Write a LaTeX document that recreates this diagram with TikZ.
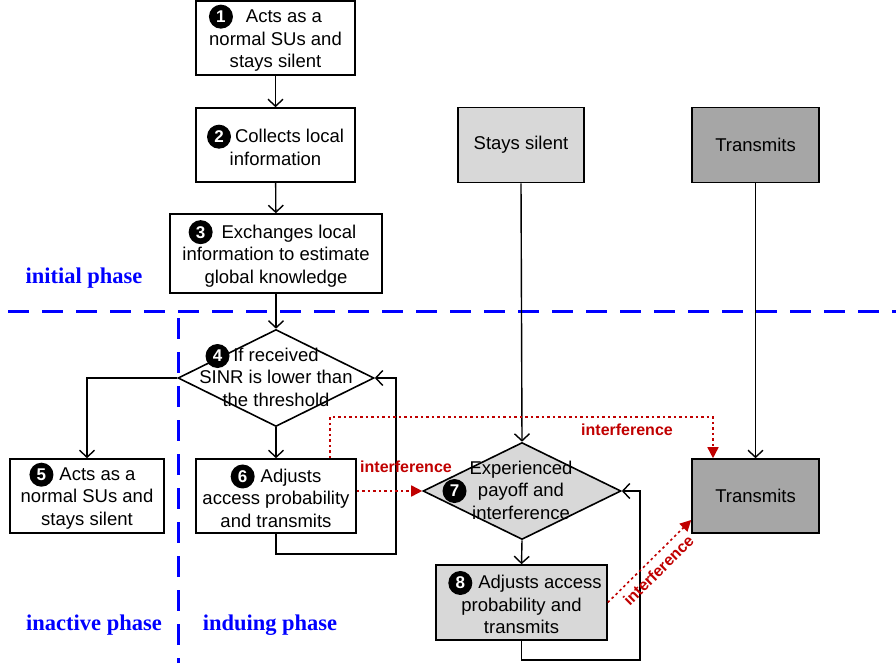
\documentclass[tikz,border=0pt]{standalone}
\usepackage{fontspec}
\setmainfont{Liberation Sans}
\newfontfamily\phasefont{Liberation Serif}
\usetikzlibrary{arrows.meta,shapes.geometric}
\definecolor{lgray}{RGB}{216,216,216}
\definecolor{dgray}{RGB}{166,166,166}
\definecolor{ired}{RGB}{192,0,0}
\definecolor{pblue}{RGB}{0,0,255}
\newcommand\cnum[1]{\tikz[baseline=(cn#1.base)]\node[circle,fill=black,text=white,inner sep=0pt,minimum size=24pt,font=\fontsize{17}{17}\selectfont\bfseries](cn#1){#1};}
\begin{document}
\begin{tikzpicture}[x=1pt,y=-1pt,
  box/.style={draw,line width=1.6pt,align=center,inner sep=0pt,font=\fontsize{18.5}{22.5}\selectfont},
  dia/.style={diamond,draw,line width=1.6pt,inner sep=0pt,minimum width=196pt,minimum height=97pt},
  txt/.style={align=center,inner sep=0pt,font=\fontsize{18.5}{22.5}\selectfont},
  numc/.style={circle,fill=black,text=white,inner sep=0pt,minimum size=24pt,font=\fontsize{17}{17}\selectfont\bfseries},
  conn/.style={line width=1.4pt,-{Straight Barb[length=7pt,width=15pt]}},
  intf/.style={ired,line width=1.6pt,dash pattern=on 2.5pt off 3pt,-{Triangle[length=11pt,width=11pt]}},
  ilab/.style={text=ired,font=\fontsize{16}{16}\selectfont\bfseries,inner sep=1pt},
  phase/.style={text=pblue,font=\phasefont\fontsize{22.5}{22.5}\selectfont\bfseries,inner sep=0pt},
  phline/.style={pblue,line width=3pt,dash pattern=on 21pt off 13pt}]
\useasboundingbox (0,0) rectangle (896,663);

% phase separators
\coordinate (hl) at (8,311);
\coordinate (hr) at (896,311);
\coordinate (vt) at (178.5,318);
\coordinate (vb) at (178.5,663);
\draw[phline] (hl) -- (hr);
\draw[phline] (vt) -- (vb);

\node[phase] (p1) at (84,278) {initial phase};
\node[phase] (p2) at (94,625) {inactive phase};
\node[phase] (p3) at (270,625) {induing phase};

% boxes
\node[box,minimum width=159pt,minimum height=74pt] (b1) at (275.5,38) {\cnum{1}\hspace{13pt}Acts as a\hspace*{20pt}\\normal SUs and\\stays silent};
\node[box,minimum width=159pt,minimum height=74pt] (b2) at (275.5,145) {\cnum{2}\hspace{4pt}Collects local\\information};
\node[box,minimum width=212pt,minimum height=79pt] (b3) at (276,253.5) {\cnum{3}\hspace{9pt}Exchanges local\hspace*{7pt}\\information to estimate\\global knowledge};
\node[dia] (d4) at (276,378) {};
\node[txt] (t4) at (276,377) {If received\\SINR is lower than\\the threshold};
\node[numc] (n4) at (217.5,356) {4};
\node[box,minimum width=154pt,minimum height=74pt] (b5) at (87,496) {\cnum{5}\hspace{6pt}Acts as a\hspace*{9pt}\\normal SUs and\\stays silent};
\node[box,minimum width=160pt,minimum height=74pt] (b6) at (276,496) {\cnum{6}\hspace{6pt}Adjusts\\access probability\\and transmits};

\node[box,fill=lgray,minimum width=126pt,minimum height=75pt] (ss) at (521,145) {Stays silent};
\node[box,fill=dgray,minimum width=127pt,minimum height=75pt] (t1) at (755.5,145) {Transmits};
\node[box,fill=dgray,minimum width=127pt,minimum height=74pt] (t2) at (755.5,496) {Transmits};

\node[dia,fill=lgray,minimum width=198pt] (d7) at (522,491) {};
\node[txt] (t7) at (521,490) {Experienced\\payoff and\\interference};
\node[numc] (n7) at (454.5,491) {7};
\node[box,fill=lgray,minimum width=171pt,minimum height=75pt] (b8) at (521.5,602.5) {\hspace*{7pt}\cnum{8}\hspace{6pt}Adjusts access\\probability and\\transmits};

% black connectors
\draw[conn] (b1) -- (b2);
\draw[conn] (b2) -- (b3);
\draw[conn] (b3) -- (d4.north);
\draw[conn] (d4.west) -| (b5.north);
\draw[conn] (d4.south) -- (b6.north);
\coordinate (l6) at (396,554);
\draw[conn] (b6.south) |- (l6) |- (d4.east);
\draw[conn] (ss.south) -- (d7.north);
\draw[conn] (t1.south) -- (t2.north);
\draw[conn] (d7.south) -- (b8.north);
\coordinate (l8) at (640,660);
\draw[conn] (b8.south) |- (l8) |- (d7.east);

% interference
\coordinate (r2) at (713,417);
\draw[intf] ([xshift=54pt]b6.north) |- (r2) -- ([xshift=-42.5pt]t2.north);
\node[ilab] (il1) at (627,430) {interference};
\draw[intf] (b6.east |- d7.west) -- (d7.west);
\node[ilab] (il2) at (406,467) {interference};
\draw[intf] (b8.east) -- ([yshift=-24pt]t2.west) node[ilab,midway,sloped,below=5pt] (il3) {interference};
\end{tikzpicture}
\end{document}
